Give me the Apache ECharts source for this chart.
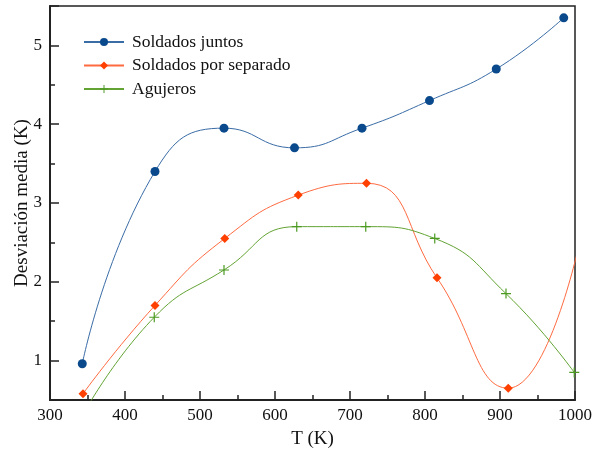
<!DOCTYPE html>
<html>
<head>
<meta charset="utf-8">
<script src="https://cdn.jsdelivr.net/npm/echarts@6/dist/echarts.min.js"></script>
<style>
  html, body { margin: 0; padding: 0; background: #fff; }
  #chart { width: 593px; height: 454px; }
</style>
</head>
<body>
<div id="chart"></div>
<script>
// datos
const tJuntos = [343, 440, 532, 626, 716, 806, 895, 985];
const vJuntos = [0.96, 3.40, 3.95, 3.70, 3.95, 4.30, 4.70, 5.35];

const tSeparado = [344, 440, 533, 631, 722, 816, 911, 1005];
const vSeparado = [0.58, 1.70, 2.55, 3.10, 3.25, 2.05, 0.65, 2.45];

const tAgujeros = [343, 439, 532, 629, 721, 813, 908, 999];
const vAgujeros = [0.30, 1.55, 2.15, 2.70, 2.70, 2.55, 1.85, 0.85];

const xTicks = [300, 400, 500, 600, 700, 800, 900, 1000];

const font = "Liberation Serif";
const plus = "path://M4.4,0h1.2v4.4h4.4v1.2h-4.4v4.4h-1.2v-4.4h-4.4v-1.2h4.4z";

const pairs = (xs, ys) => xs.map((x, i) => [x, ys[i]]);

const chart = echarts.init(document.getElementById("chart"));

const option = {
  animation: false,
  backgroundColor: "#fff",
  grid: {
    left: 50,
    right: 18,
    top: 6,
    bottom: 54,
    outerBoundsMode: "none",
    show: true,
    borderColor: "#222",
    borderWidth: 1.5,
  },
  legend: {
    orient: "vertical",
    left: 83,
    top: 33,
    padding: 0,
    itemWidth: 40,
    itemHeight: 10,
    itemGap: 5.5,
    textStyle: { fontFamily: font, fontSize: 17.5, color: "#111", padding: [0, 0, 0, 3] },
    data: ["Soldados juntos", "Soldados por separado", "Agujeros"],
  },
  xAxis: {
    type: "value",
    min: xTicks[0],
    max: xTicks[xTicks.length - 1],
    interval: 100,
    name: "T (K)",
    nameLocation: "middle",
    nameGap: 30,
    nameMoveOverlap: false,
    nameTextStyle: { fontFamily: font, fontSize: 19, color: "#111" },
    axisLine: { lineStyle: { color: "#222", width: 2 } },
    axisTick: { inside: true, length: 9, lineStyle: { color: "#222", width: 1.5 } },
    minorTick: { show: true, splitNumber: 2, length: 5, lineStyle: { color: "#222", width: 1.5 } },
    axisLabel: { fontFamily: font, fontSize: 17, color: "#111", margin: 7, formatter: (v) => String(v) },
    splitLine: { show: false },
  },
  yAxis: {
    type: "value",
    min: 0.5,
    max: 5.5,
    splitNumber: 5,
    name: "Desviación media (K)",
    nameLocation: "middle",
    nameGap: 18,
    nameMoveOverlap: false,
    nameTextStyle: { fontFamily: font, fontSize: 19, color: "#111" },
    axisLine: { lineStyle: { color: "#222", width: 2 } },
    axisTick: { inside: true, length: 9, lineStyle: { color: "#222", width: 1.5 } },
    minorTick: { show: true, splitNumber: 2, length: 5, lineStyle: { color: "#222", width: 1.5 } },
    axisLabel: {
      fontFamily: font,
      fontSize: 17,
      color: "#111",
      margin: 8,
      formatter: (v) => (Number.isInteger(v) ? String(v) : ""),
    },
    splitLine: { show: false },
  },
  series: [
    {
      name: "Soldados juntos",
      type: "line",
      smooth: 0.5,
      data: pairs(tJuntos, vJuntos),
      symbol: "circle",
      symbolSize: 9,
      lineStyle: { color: "#3a6ca6", width: 1 },
      itemStyle: { color: "#0a4a8c" },
    },
    {
      name: "Soldados por separado",
      type: "line",
      smooth: 0.5,
      data: pairs(tSeparado, vSeparado),
      symbol: "diamond",
      symbolSize: 9,
      lineStyle: { color: "#ff6a40", width: 1 },
      itemStyle: { color: "#ff4000" },
    },
    {
      name: "Agujeros",
      type: "line",
      smooth: 0.5,
      data: pairs(tAgujeros, vAgujeros),
      symbol: plus,
      symbolSize: 10,
      lineStyle: { color: "#62a333", width: 1 },
      itemStyle: { color: "#4c9a22" },
    },
  ],
};

chart.setOption(option);
</script>
</body>
</html>
